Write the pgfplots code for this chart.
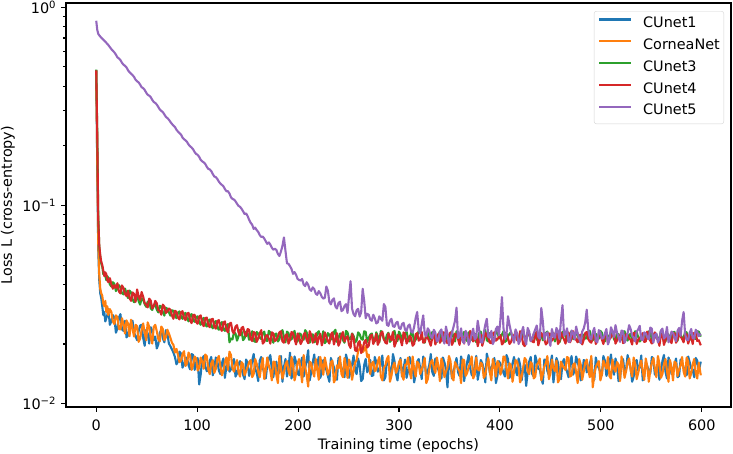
\documentclass[border=0pt]{standalone}
\usepackage{fontspec}
\setmainfont{DejaVu Sans}
\usepackage{pgfplots}
\usepackage{pgfplotstable}
\pgfplotsset{compat=1.18}
\definecolor{c0}{HTML}{1F77B4}
\definecolor{c1}{HTML}{FF7F0E}
\definecolor{c2}{HTML}{2CA02C}
\definecolor{c3}{HTML}{D62728}
\definecolor{c4}{HTML}{9467BD}

\pgfplotstableread{
x b o g r p
0 0.48 0.48 0.485 0.48 0.855
1 0.16 0.17 0.24 0.23 0.77
2 0.060 0.065 0.090 0.085 0.735
3 0.042 0.045 0.062 0.063 0.722
4 0.036 0.038 0.055 0.056 0.712
5 0.034 0.036 0.051 0.052 0.703
6 0.031 0.035 0.049 0.050 0.694
7 0.028 0.032 0.045 0.047 0.686
8 0.029 0.031 0.046 0.044 0.678
9 0.026 0.033 0.044 0.046 0.670
10 0.027 0.029 0.042 0.045 0.662
11 0.028 0.031 0.044 0.042 0.653
12 0.030 0.028 0.043 0.041 0.645
13.5 0.025 0.030 0.040 0.043 0.630
15 0.026 0.029 0.039 0.040 0.615
16.5 0.028 0.026 0.041 0.038 0.603
18 0.0271 0.0252 0.0402 0.0396 0.592
19.5 0.0228 0.0279 0.0370 0.0384 0.577
21 0.0240 0.0273 0.0381 0.0405 0.559
22.5 0.0272 0.0238 0.0396 0.0368 0.552
24 0.0283 0.0237 0.0385 0.0360 0.541
25.5 0.0237 0.0270 0.0361 0.0395 0.525
27 0.0233 0.0252 0.0356 0.0383 0.513
28.5 0.0262 0.0226 0.0381 0.0358 0.507
30 0.0216 0.0263 0.0360 0.0349 0.497
31.5 0.0221 0.0254 0.0341 0.0372 0.481
33 0.0246 0.0219 0.0372 0.0341 0.470
34.5 0.0255 0.0265 0.0364 0.0330 0.462
36 0.0262 0.0238 0.0335 0.0364 0.455
37.5 0.0228 0.0218 0.0325 0.0358 0.445
39 0.0219 0.0250 0.0344 0.0326 0.431
40.5 0.0209 0.0246 0.0357 0.0377 0.423
42 0.0232 0.0205 0.0329 0.0348 0.418
43.5 0.0248 0.0213 0.0316 0.0333 0.407
45 0.0250 0.0236 0.0340 0.0366 0.395
46.5 0.0215 0.0254 0.0335 0.0347 0.391
48 0.0196 0.0228 0.0318 0.0322 0.383
49.5 0.0236 0.0209 0.0308 0.0316 0.371
51 0.0226 0.0257 0.0327 0.0306 0.362
52.5 0.0201 0.0244 0.0328 0.0339 0.358
54 0.0243 0.0215 0.0303 0.0331 0.352
55.5 0.0234 0.0201 0.0297 0.0302 0.341
57 0.0209 0.0244 0.0315 0.0310 0.333
58.5 0.0218 0.0250 0.0318 0.0330 0.329
60 0.0190 0.0232 0.0298 0.0321 0.323
61.5 0.0199 0.0212 0.0289 0.0296 0.314
63 0.0228 0.0206 0.0312 0.0294 0.305
64.5 0.0236 0.0245 0.0309 0.0281 0.300
66 0.0214 0.0238 0.0290 0.0316 0.296
67.5 0.0204 0.0209 0.0278 0.0309 0.288
69 0.0235 0.0216 0.0305 0.0287 0.280
70.5 0.0226 0.0236 0.0301 0.0292 0.276
72 0.0201 0.0226 0.0289 0.0302 0.271
73.5 0.0195 0.0215 0.0278 0.0298 0.264
75 0.0188 0.0203 0.0296 0.0279 0.258
76.5 0.0181 0.0198 0.0294 0.0268 0.253
78 0.0172 0.0181 0.0281 0.0294 0.249
79.5 0.0158 0.0189 0.0270 0.0291 0.241
81 0.0163 0.0176 0.0287 0.0272 0.236
82.5 0.0183 0.0162 0.0292 0.0266 0.232
84 0.0179 0.0165 0.0275 0.0289 0.228
85.5 0.0152 0.0178 0.0268 0.0293 0.220
87 0.0158 0.0184 0.0283 0.0270 0.216
88.5 0.0171 0.0155 0.0287 0.0264 0.213
90 0.0170 0.0160 0.0268 0.0285 0.209
91.5 0.0156 0.0181 0.0260 0.0287 0.203
93 0.0149 0.0175 0.0279 0.0263 0.199
94.5 0.0178 0.0148 0.0283 0.0255 0.196
96 0.0176 0.0157 0.0264 0.0280 0.192
97.5 0.0148 0.0173 0.0259 0.0281 0.186
99 0.0161 0.0169 0.0273 0.0258 0.182
100.5 0.0170 0.0147 0.0276 0.0253 0.180
102 0.0125 0.0152 0.0258 0.0275 0.176
103.5 0.0140 0.0171 0.0250 0.0279 0.170
105 0.0168 0.0163 0.0266 0.0255 0.167
106.5 0.0174 0.0150 0.0271 0.0246 0.165
108 0.0155 0.0177 0.0251 0.0270 0.162
109.5 0.0146 0.0174 0.0245 0.0272 0.157
111 0.0147 0.0149 0.0262 0.0249 0.153
112.5 0.0165 0.0141 0.0266 0.0243 0.152
114 0.0172 0.0160 0.0247 0.0266 0.149
115.5 0.0139 0.0166 0.0240 0.0268 0.144
117 0.0152 0.0143 0.0257 0.0244 0.140
118.5 0.0171 0.0150 0.0261 0.0239 0.139
120 0.0164 0.0168 0.0242 0.0261 0.136
121.5 0.0147 0.0174 0.0236 0.0264 0.132
123 0.0141 0.0155 0.0253 0.0240 0.129
124.5 0.0160 0.0139 0.0258 0.0233 0.127
126 0.0169 0.0146 0.0238 0.0257 0.125
127.5 0.0135 0.0162 0.0233 0.0260 0.121
129 0.0154 0.0171 0.0248 0.0236 0.118
130.5 0.0166 0.0148 0.0252 0.0229 0.118
132 0.0145 0.0183 0.0204 0.0253 0.115
133.5 0.0149 0.0176 0.0213 0.0256 0.110
135 0.0163 0.0151 0.0211 0.0232 0.108
136.5 0.0168 0.0145 0.0229 0.0226 0.107
138 0.0137 0.0158 0.0226 0.0245 0.105
139.5 0.0142 0.0166 0.0208 0.0249 0.102
141 0.0158 0.0144 0.0219 0.0229 0.0995
142.5 0.0164 0.0137 0.0236 0.0221 0.0985
144 0.0150 0.0162 0.0232 0.0241 0.0962
145.5 0.0140 0.0158 0.0209 0.0244 0.0935
147 0.0133 0.0139 0.0214 0.0226 0.0905
148.5 0.0167 0.0146 0.0231 0.0219 0.0912
150 0.0161 0.0153 0.0227 0.0238 0.0884
151.5 0.0138 0.0162 0.0210 0.0236 0.0846
153 0.0147 0.0166 0.0221 0.0212 0.0818
154.5 0.0165 0.0136 0.0232 0.0207 0.0800
156 0.0178 0.0141 0.0208 0.0230 0.0762
157.5 0.0150 0.0168 0.0205 0.0227 0.0773
159 0.0143 0.0159 0.0230 0.0205 0.0751
160.5 0.0130 0.0145 0.0226 0.0214 0.0736
162 0.0165 0.0136 0.0215 0.0226 0.0709
163.5 0.0172 0.0155 0.0212 0.0235 0.0694
165 0.0152 0.0170 0.0226 0.0201 0.0697
166.5 0.0143 0.0133 0.0231 0.0205 0.0681
168 0.0134 0.0148 0.0209 0.0220 0.0659
169.5 0.0158 0.0171 0.0207 0.0222 0.0640
171 0.0169 0.0155 0.0233 0.0213 0.0651
172.5 0.0176 0.0147 0.0229 0.0201 0.0635
174 0.0149 0.0131 0.0212 0.0229 0.0612
175.5 0.0136 0.0163 0.0203 0.0226 0.0598
177 0.0157 0.0162 0.0224 0.0207 0.0605
178.5 0.0163 0.0139 0.0226 0.0210 0.0596
180 0.0140 0.0127 0.0206 0.0218 0.0570
181.5 0.0145 0.0174 0.0211 0.0229 0.0556
183 0.0174 0.0151 0.0228 0.0232 0.0585
184.5 0.0129 0.0134 0.0235 0.0206 0.0625
186 0.0153 0.0144 0.0217 0.0203 0.0690
187.5 0.0168 0.0158 0.0204 0.0221 0.0590
189 0.0137 0.0164 0.0231 0.0224 0.0511
190.5 0.0151 0.0146 0.0227 0.0201 0.0508
192 0.0181 0.0139 0.0210 0.0210 0.0494
193.5 0.0134 0.0172 0.0211 0.0230 0.0478
195 0.0146 0.0157 0.0222 0.0227 0.0452
196.5 0.0173 0.0131 0.0233 0.0212 0.0461
198 0.0162 0.0142 0.0205 0.0199 0.0447
199.5 0.0142 0.0160 0.0206 0.0226 0.0426
201 0.0139 0.0168 0.0226 0.0219 0.0421
202.5 0.0160 0.0149 0.0225 0.0200 0.0418
204 0.0171 0.0128 0.0213 0.0207 0.0426
205.5 0.0137 0.0176 0.0210 0.0223 0.0399
207 0.0151 0.0153 0.0235 0.0228 0.0392
208.5 0.0166 0.0139 0.0229 0.0209 0.0410
210 0.0186 0.0122 0.0209 0.0202 0.0398
211.5 0.0131 0.0163 0.0203 0.0232 0.0377
213 0.0144 0.0160 0.0221 0.0222 0.0371
214.5 0.0161 0.0145 0.0224 0.0203 0.0386
216 0.0177 0.0137 0.0204 0.0211 0.0379
217.5 0.0148 0.0168 0.0207 0.0226 0.0359
219 0.0158 0.0149 0.0228 0.0199 0.0354
220.5 0.0172 0.0132 0.0232 0.0215 0.0370
222 0.0135 0.0172 0.0216 0.0225 0.0361
223.5 0.0143 0.0157 0.0214 0.0197 0.0346
225 0.0166 0.0140 0.0232 0.0208 0.0339
226.5 0.0159 0.0171 0.0202 0.0229 0.0342
228 0.0148 0.0156 0.0207 0.0218 0.0390
229.5 0.0138 0.0140 0.0227 0.0207 0.0372
231 0.0129 0.0146 0.0223 0.0201 0.0326
232.5 0.0170 0.0162 0.0211 0.0223 0.0317
234 0.0161 0.0165 0.0211 0.0229 0.0334
235.5 0.0153 0.0128 0.0230 0.0199 0.0340
237 0.0143 0.0133 0.0236 0.0212 0.0309
238.5 0.0132 0.0156 0.0205 0.0227 0.0302
240 0.0170 0.0151 0.0214 0.0196 0.0322
241.5 0.0162 0.0173 0.0226 0.0204 0.0327
243 0.0152 0.0141 0.0225 0.0222 0.0293
244.5 0.0145 0.0136 0.0209 0.0230 0.0297
246 0.0136 0.0170 0.0203 0.0206 0.0311
247.5 0.0177 0.0154 0.0233 0.0214 0.0318
249 0.0164 0.0135 0.0229 0.0219 0.0287
250.5 0.0135 0.0167 0.0211 0.0198 0.0348
252 0.0147 0.0158 0.0212 0.0191 0.0415
253.5 0.0158 0.0132 0.0226 0.0225 0.0301
255 0.0175 0.0147 0.0220 0.0215 0.0283
256.5 0.0147 0.0161 0.0204 0.0186 0.0276
258 0.0141 0.0166 0.0208 0.0184 0.0296
259.5 0.0169 0.0184 0.0229 0.0202 0.0301
261 0.0156 0.0190 0.0224 0.0207 0.0275
262.5 0.0130 0.0198 0.0213 0.0180 0.0289
264 0.0133 0.0182 0.0210 0.0188 0.0380
265.5 0.0157 0.0186 0.0232 0.0204 0.0330
267 0.0168 0.0195 0.0230 0.0210 0.0270
268.5 0.0144 0.0172 0.0205 0.0192 0.0284
270 0.0150 0.0177 0.0215 0.0196 0.0281
271.5 0.0166 0.0141 0.0223 0.0218 0.0266
273 0.0138 0.0159 0.0226 0.0223 0.0262
274.5 0.0139 0.0163 0.0211 0.0200 0.0281
276 0.0172 0.0146 0.0206 0.0209 0.0270
277.5 0.0162 0.0149 0.0229 0.0225 0.0254
279 0.0145 0.0163 0.0219 0.0198 0.0257
280.5 0.0148 0.0172 0.0204 0.0207 0.0276
282 0.0159 0.0137 0.0233 0.0226 0.0268
283.5 0.0175 0.0131 0.0225 0.0231 0.0262
285 0.0131 0.0152 0.0211 0.0212 0.0318
286.5 0.0136 0.0156 0.0208 0.0203 0.0308
288 0.0165 0.0168 0.0222 0.0201 0.0250
289.5 0.0160 0.0174 0.0228 0.0226 0.0247
291 0.0149 0.0129 0.0205 0.0217 0.0262
292.5 0.0142 0.0138 0.0210 0.0209 0.0268
294 0.0178 0.0154 0.0227 0.0230 0.0246
295.5 0.0164 0.0161 0.0233 0.0194 0.0244
297 0.0142 0.0143 0.0214 0.0204 0.0255
298.5 0.0131 0.0149 0.0207 0.0222 0.0259
300 0.0155 0.0162 0.0231 0.0219 0.0241
301.5 0.0170 0.0167 0.0223 0.0210 0.0238
303 0.0137 0.0139 0.0208 0.0197 0.0252
304.5 0.0150 0.0132 0.0212 0.0229 0.0256
306 0.0167 0.0157 0.0224 0.0224 0.0236
307.5 0.0135 0.0158 0.0231 0.0201 0.0233
309 0.0146 0.0171 0.0212 0.0208 0.0247
310.5 0.0172 0.0145 0.0206 0.0220 0.0251
312 0.0160 0.0134 0.0229 0.0215 0.0231
313.5 0.0154 0.0173 0.0226 0.0196 0.0228
315 0.0128 0.0150 0.0206 0.0200 0.0244
316.5 0.0141 0.0137 0.0210 0.0224 0.0270
318 0.0163 0.0163 0.0220 0.0227 0.0290
319.5 0.0168 0.0159 0.0233 0.0208 0.0236
321 0.0151 0.0141 0.0234 0.0211 0.0226
322.5 0.0133 0.0148 0.0214 0.0230 0.0252
324 0.0173 0.0158 0.0210 0.0203 0.0279
325.5 0.0161 0.0170 0.0203 0.0205 0.0224
327 0.0139 0.0127 0.0225 0.0221 0.0219
328.5 0.0146 0.0133 0.0228 0.0215 0.0240
330 0.0157 0.0149 0.0213 0.0206 0.0233
331.5 0.0178 0.0162 0.0211 0.0196 0.0218
333 0.0144 0.0166 0.0230 0.0216 0.0214
334.5 0.0138 0.0151 0.0226 0.0228 0.0236
336 0.0169 0.0143 0.0208 0.0199 0.0228
337.5 0.0158 0.0171 0.0205 0.0211 0.0206
339 0.0148 0.0155 0.0221 0.0225 0.0209
340.5 0.0140 0.0130 0.0231 0.0203 0.0231
342 0.0134 0.0169 0.0212 0.0209 0.0237
343.5 0.0171 0.0159 0.0208 0.0230 0.0212
345 0.0162 0.0136 0.0228 0.0218 0.0201
346.5 0.0149 0.0145 0.0225 0.0207 0.0245
348 0.0121 0.0152 0.0209 0.0202 0.0226
349.5 0.0163 0.0174 0.0212 0.0221 0.0197
351 0.0158 0.0164 0.0224 0.0229 0.0213
352.5 0.0134 0.0136 0.0232 0.0198 0.0228
354 0.0145 0.0131 0.0215 0.0207 0.0244
355.5 0.0157 0.0162 0.0206 0.0226 0.0262
357 0.0170 0.0156 0.0232 0.0221 0.0305
358.5 0.0144 0.0150 0.0223 0.0212 0.0214
360 0.0138 0.0146 0.0207 0.0198 0.0219
361.5 0.0173 0.0127 0.0211 0.0227 0.0240
363 0.0161 0.0167 0.0222 0.0216 0.0206
364.5 0.0130 0.0166 0.0230 0.0201 0.0202
366 0.0147 0.0138 0.0213 0.0231 0.0233
367.5 0.0162 0.0143 0.0207 0.0219 0.0225
369 0.0176 0.0153 0.0229 0.0204 0.0198
370.5 0.0151 0.0160 0.0226 0.0233 0.0208
372 0.0140 0.0173 0.0210 0.0219 0.0224
373.5 0.0137 0.0134 0.0214 0.0206 0.0239
375 0.0155 0.0140 0.0226 0.0211 0.0211
376.5 0.0174 0.0171 0.0204 0.0224 0.0216
378 0.0132 0.0149 0.0204 0.0195 0.0262
379.5 0.0146 0.0147 0.0228 0.0209 0.0234
381 0.0166 0.0161 0.0231 0.0223 0.0205
382.5 0.0160 0.0158 0.0212 0.0196 0.0203
384 0.0150 0.0135 0.0217 0.0210 0.0228
385.5 0.0128 0.0139 0.0235 0.0228 0.0250
387 0.0179 0.0157 0.0209 0.0220 0.0268
388.5 0.0165 0.0170 0.0206 0.0214 0.0218
390 0.0143 0.0144 0.0227 0.0203 0.0215
391.5 0.0152 0.0131 0.0222 0.0202 0.0233
393 0.0159 0.0168 0.0212 0.0226 0.0200
394.5 0.0170 0.0155 0.0210 0.0229 0.0209
396 0.0127 0.0137 0.0234 0.0208 0.0238
397.5 0.0138 0.0164 0.0229 0.0211 0.0245
399 0.0164 0.0159 0.0215 0.0217 0.0221
400.5 0.0159 0.0140 0.0213 0.0222 0.0266
402 0.0152 0.0150 0.0223 0.0199 0.0345
403.5 0.0143 0.0173 0.0232 0.0203 0.0241
405 0.0137 0.0172 0.0205 0.0228 0.0212
406.5 0.0176 0.0149 0.0208 0.0226 0.0224
408 0.0168 0.0134 0.0219 0.0214 0.0276
409.5 0.0135 0.0160 0.0225 0.0200 0.0250
411 0.0145 0.0155 0.0230 0.0205 0.0230
412.5 0.0160 0.0129 0.0211 0.0218 0.0216
414 0.0172 0.0146 0.0208 0.0221 0.0203
415.5 0.0148 0.0166 0.0233 0.0230 0.0237
417 0.0139 0.0163 0.0224 0.0209 0.0226
418.5 0.0169 0.0152 0.0206 0.0207 0.0200
420 0.0157 0.0128 0.0213 0.0232 0.0208
421.5 0.0131 0.0137 0.0220 0.0220 0.0229
423 0.0149 0.0152 0.0236 0.0200 0.0244
424.5 0.0158 0.0170 0.0214 0.0195 0.0212
426 0.0123 0.0166 0.0209 0.0216 0.0199
427.5 0.0144 0.0145 0.0230 0.0228 0.0241
429 0.0163 0.0141 0.0225 0.0224 0.0231
430.5 0.0172 0.0162 0.0207 0.0212 0.0207
432 0.0141 0.0158 0.0211 0.0206 0.0214
433.5 0.0137 0.0134 0.0224 0.0204 0.0226
435 0.0175 0.0137 0.0228 0.0219 0.0237
436.5 0.0163 0.0157 0.0212 0.0231 0.0248
438 0.0150 0.0161 0.0206 0.0197 0.0218
439.5 0.0149 0.0169 0.0233 0.0210 0.0213
441 0.0134 0.0131 0.0222 0.0227 0.0304
442.5 0.0126 0.0141 0.0209 0.0221 0.0260
444 0.0167 0.0154 0.0214 0.0211 0.0210
445.5 0.0166 0.0160 0.0227 0.0199 0.0225
447 0.0146 0.0174 0.0231 0.0203 0.0229
448.5 0.0139 0.0133 0.0211 0.0226 0.0209
450 0.0158 0.0142 0.0208 0.0225 0.0196
451.5 0.0175 0.0167 0.0229 0.0208 0.0238
453 0.0128 0.0151 0.0227 0.0212 0.0220
454.5 0.0150 0.0146 0.0206 0.0219 0.0215
456 0.0170 0.0165 0.0216 0.0236 0.0241
457.5 0.0161 0.0128 0.0223 0.0200 0.0232
459 0.0142 0.0133 0.0204 0.0207 0.0212
460.5 0.0133 0.0163 0.0215 0.0229 0.0265
462 0.0161 0.0156 0.0229 0.0218 0.0314
463.5 0.0168 0.0151 0.0232 0.0211 0.0221
465 0.0153 0.0148 0.0218 0.0201 0.0225
466.5 0.0145 0.0172 0.0208 0.0223 0.0240
468 0.0136 0.0170 0.0210 0.0229 0.0205
469.5 0.0159 0.0137 0.0225 0.0204 0.0206
471 0.0174 0.0139 0.0232 0.0213 0.0234
472.5 0.0140 0.0157 0.0212 0.0232 0.0228
474 0.0148 0.0160 0.0212 0.0220 0.0211
475.5 0.0173 0.0144 0.0230 0.0210 0.0245
477 0.0162 0.0127 0.0226 0.0204 0.0227
478.5 0.0152 0.0168 0.0205 0.0220 0.0213
480 0.0131 0.0158 0.0207 0.0223 0.0202
481.5 0.0136 0.0132 0.0222 0.0199 0.0231
483 0.0166 0.0145 0.0223 0.0210 0.0239
484.5 0.0164 0.0161 0.0213 0.0227 0.0257
486 0.0144 0.0167 0.0214 0.0230 0.0298
487.5 0.0147 0.0149 0.0231 0.0212 0.0236
489 0.0159 0.0136 0.0233 0.0206 0.0216
490.5 0.0170 0.0174 0.0207 0.0203 0.0211
492 0.0137 0.0121 0.0209 0.0217 0.0230
493.5 0.0132 0.0140 0.0226 0.0228 0.0241
495 0.0171 0.0153 0.0225 0.0200 0.0208
496.5 0.0157 0.0159 0.0214 0.0209 0.0204
498 0.0151 0.0164 0.0213 0.0225 0.0235
499.5 0.0144 0.0131 0.0233 0.0221 0.0229
501 0.0139 0.0140 0.0228 0.0211 0.0213
502.5 0.0174 0.0165 0.0209 0.0200 0.0214
504 0.0165 0.0157 0.0206 0.0221 0.0226
505.5 0.0138 0.0150 0.0226 0.0229 0.0238
507 0.0146 0.0172 0.0220 0.0203 0.0199
508.5 0.0160 0.0138 0.0212 0.0212 0.0210
510 0.0177 0.0134 0.0231 0.0216 0.0243
511.5 0.0149 0.0167 0.0230 0.0224 0.0232
513 0.0140 0.0150 0.0211 0.0228 0.0217
514.5 0.0169 0.0145 0.0207 0.0201 0.0249
516 0.0156 0.0162 0.0226 0.0208 0.0228
517.5 0.0130 0.0158 0.0224 0.0218 0.0217
519 0.0133 0.0130 0.0208 0.0219 0.0205
520.5 0.0162 0.0173 0.0213 0.0230 0.0234
522 0.0168 0.0155 0.0229 0.0202 0.0232
523.5 0.0143 0.0135 0.0232 0.0206 0.0203
525 0.0149 0.0146 0.0215 0.0224 0.0214
526.5 0.0176 0.0162 0.0208 0.0222 0.0227
528 0.0160 0.0169 0.0222 0.0213 0.0249
529.5 0.0151 0.0148 0.0225 0.0210 0.0238
531 0.0129 0.0137 0.0207 0.0199 0.0220
532.5 0.0137 0.0171 0.0212 0.0228 0.0215
534 0.0163 0.0159 0.0232 0.0226 0.0206
535.5 0.0166 0.0133 0.0229 0.0200 0.0231
537 0.0147 0.0143 0.0217 0.0210 0.0237
538.5 0.0153 0.0156 0.0206 0.0215 0.0247
540 0.0175 0.0165 0.0210 0.0218 0.0211
541.5 0.0131 0.0146 0.0224 0.0227 0.0209
543 0.0138 0.0132 0.0227 0.0205 0.0229
544.5 0.0161 0.0169 0.0214 0.0206 0.0226
546 0.0155 0.0154 0.0213 0.0231 0.0216
547.5 0.0145 0.0129 0.0231 0.0219 0.0211
549 0.0142 0.0147 0.0234 0.0208 0.0242
550.5 0.0172 0.0161 0.0208 0.0201 0.0239
552 0.0169 0.0170 0.0209 0.0220 0.0203
553.5 0.0140 0.0150 0.0226 0.0229 0.0222
555 0.0150 0.0136 0.0224 0.0214 0.0226
556.5 0.0158 0.0174 0.0211 0.0211 0.0204
558 0.0132 0.0160 0.0212 0.0196 0.0212
559.5 0.0147 0.0135 0.0233 0.0223 0.0234
561 0.0164 0.0141 0.0228 0.0224 0.0239
562.5 0.0176 0.0158 0.0207 0.0198 0.0213
564 0.0145 0.0168 0.0206 0.0209 0.0218
565.5 0.0134 0.0147 0.0225 0.0226 0.0244
567 0.0171 0.0129 0.0223 0.0217 0.0204
568.5 0.0162 0.0166 0.0213 0.0209 0.0216
570 0.0141 0.0152 0.0214 0.0202 0.0231
571.5 0.0150 0.0131 0.0229 0.0221 0.0228
573 0.0158 0.0163 0.0230 0.0227 0.0215
574.5 0.0169 0.0160 0.0206 0.0203 0.0207
576 0.0136 0.0138 0.0208 0.0211 0.0233
577.5 0.0138 0.0149 0.0224 0.0230 0.0241
579 0.0167 0.0156 0.0225 0.0219 0.0220
580.5 0.0160 0.0172 0.0212 0.0212 0.0262
582 0.0152 0.0145 0.0215 0.0204 0.0290
583.5 0.0144 0.0137 0.0230 0.0226 0.0224
585 0.0139 0.0171 0.0229 0.0223 0.0210
586.5 0.0173 0.0163 0.0208 0.0201 0.0209
588 0.0162 0.0134 0.0210 0.0212 0.0228
589.5 0.0151 0.0142 0.0226 0.0219 0.0238
591 0.0148 0.0158 0.0224 0.0200 0.0214
592.5 0.0136 0.0168 0.0214 0.0228 0.0213
594 0.0170 0.0143 0.0212 0.0226 0.0236
595.5 0.0165 0.0134 0.0232 0.0207 0.0230
597 0.0146 0.0161 0.0231 0.0209 0.0219
599 0.0163 0.0139 0.0218 0.0197 0.0225
}\losstable

\begin{document}
\begin{tikzpicture}
\begin{axis}[
  at={(0,0)}, anchor=south west,
  width=665bp, height=404bp, scale only axis,
  xmin=-29.95, xmax=628.95,
  ymode=log, ymin=0.00962, ymax=1.051,
  xtick={0,100,200,300,400,500,600},
  ytick={0.01,0.1,1},
  yticklabels={10\textsuperscript{−2},10\textsuperscript{−1},10\textsuperscript{0}},
  minor ytick={0.02,0.03,0.04,0.05,0.06,0.07,0.08,0.09,0.2,0.3,0.4,0.5,0.6,0.7,0.8,0.9},
  tick align=outside, tick pos=left,
  major tick length=4.9bp, minor tick length=2.8bp,
  every tick/.style={black, line width=1.1bp},
  axis line style={black, line width=1.1bp},
  /pgf/number format/assume math mode=true,
  tick label style={font=\fontsize{14.4bp}{16bp}\selectfont},
  xticklabel style={anchor=base, yshift=-19bp},
  yticklabel style={xshift=-1.5bp},
  label style={font=\fontsize{14.4bp}{16bp}\selectfont},
  xlabel={Training time (epochs)},
  ylabel={Loss L (cross-entropy)},
  xlabel style={at={(axis description cs:0.5,-0.1047)}, anchor=base},
  ylabel style={at={(axis description cs:-0.0812,0.5)}, anchor=base},
  legend style={at={(1,1)}, anchor=north east, xshift=-7bp, yshift=-8bp,
    draw=black!17, rounded corners=2.5bp, fill=white,
    inner xsep=4bp, inner ysep=5.5bp, row sep=7.3bp,
    nodes={inner sep=0bp, text height=11bp, text depth=3.5bp},
    /tikz/every odd column/.append style={column sep=11bp},
    font=\fontsize{14.4bp}{16bp}\selectfont},
  legend cell align=left,
  legend image code/.code={\draw[#1, line width=2.1bp] (0bp,4.5bp) -- (32bp,4.5bp);},
  every axis plot/.append style={line width=2.1bp, line join=round},
]
\addplot[c0] table[x=x, y=b]{\losstable};
\addplot[c1] table[x=x, y=o]{\losstable};
\addplot[c2] table[x=x, y=g]{\losstable};
\addplot[c3] table[x=x, y=r]{\losstable};
\addplot[c4] table[x=x, y=p]{\losstable};
\legend{CUnet1, CorneaNet, CUnet3, CUnet4, CUnet5}
\end{axis}
\pgfresetboundingbox
\path[use as bounding box] (-66bp,-47bp) rectangle (667bp,407bp);
\end{tikzpicture}
\end{document}
